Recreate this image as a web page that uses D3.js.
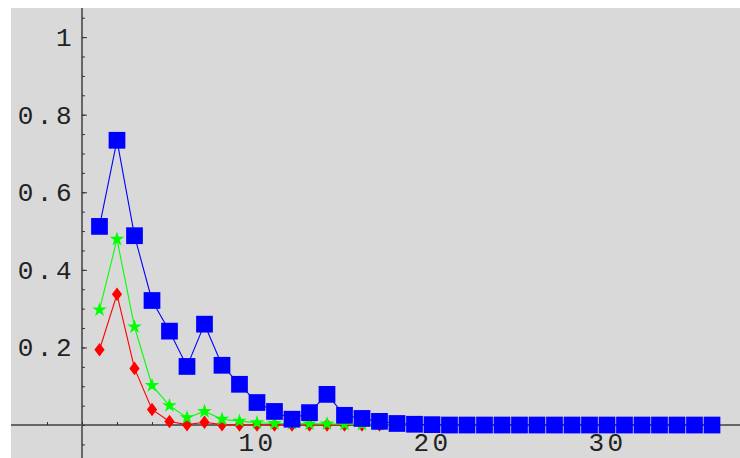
<!DOCTYPE html>
<html>
<head>
  <title>Three series plot</title>
  <script src="https://d3js.org/d3.v7.min.js"></script>
  <style>
    body { margin: 0; background: #ffffff; }
    svg { display: block; }
  </style>
</head>
<body>
  <svg id="chart" width="740" height="458"></svg>

  <script>
    // values (x = 1 .. 36)
    const blueValues = [0.512, 0.734, 0.488, 0.321, 0.242, 0.151, 0.260, 0.154, 0.105, 0.058,
      0.035, 0.015, 0.032, 0.079, 0.025, 0.017, 0.0095, 0.004, 0.002, 0.001,
      0, 0, 0, 0, 0, 0, 0, 0, 0, 0, 0, 0, 0, 0, 0, 0];
    const greenValues = [0.297, 0.479, 0.253, 0.102, 0.050, 0.019, 0.035, 0.015, 0.010, 0.006,
      0.004, 0.004, 0.003, 0.003, 0.002, 0.001, 0.001, 0.0005, 0, 0,
      0, 0, 0, 0, 0, 0, 0, 0, 0, 0, 0, 0, 0, 0, 0, 0];
    const redValues = [0.194, 0.337, 0.146, 0.040, 0.009, 0.001, 0.007, 0.001, 0, 0,
      0, 0, 0, 0, 0, 0, 0, 0, 0, 0,
      0, 0, 0, 0, 0, 0, 0, 0, 0, 0, 0, 0, 0, 0, 0, 0];

    const xTickLabels = [10, 20, 30];
    const yTickLabels = [0.2, 0.4, 0.6, 0.8, 1];

    const plotLeft = 11, plotTop = 8, plotRight = 740, plotBottom = 458;

    const x = d3.scaleLinear().domain([-4.057, 37.6]).range([plotLeft, plotRight]);
    const y = d3.scaleLinear().domain([-0.085, 1.075]).range([plotBottom, plotTop]);

    const svg = d3.select("#chart");

    // gray plot background
    svg.append("rect")
      .attr("x", plotLeft).attr("y", plotTop)
      .attr("width", plotRight - plotLeft).attr("height", plotBottom - plotTop)
      .attr("fill", "#d9d9d9");

    const axisColor = "#666666";
    const labelFont = "'Liberation Mono', 'DejaVu Sans Mono', monospace";

    // axis lines
    svg.append("line")
      .attr("x1", plotLeft).attr("x2", plotRight)
      .attr("y1", y(0)).attr("y2", y(0))
      .attr("stroke", axisColor).attr("stroke-width", 2);
    svg.append("line")
      .attr("x1", x(0)).attr("x2", x(0))
      .attr("y1", plotTop).attr("y2", plotBottom)
      .attr("stroke", axisColor).attr("stroke-width", 2);

    // y axis: minor then major ticks (pointing right), labels on left
    const yMinor = d3.range(-1, 22).map(i => i * 0.05);
    svg.append("g")
      .attr("transform", `translate(${x(0)},0)`)
      .call(d3.axisLeft(y).tickValues(yMinor).tickSize(-3).tickFormat(""))
      .call(g => g.select(".domain").remove())
      .call(g => g.selectAll("line").attr("stroke", "#333"));

    svg.append("g")
      .attr("transform", `translate(${x(0)},0)`)
      .call(d3.axisLeft(y).tickValues(yTickLabels).tickSize(-5).tickPadding(7).tickFormat(d => String(d)))
      .call(g => g.select(".domain").remove())
      .call(g => g.selectAll("line").attr("stroke", "#333"))
      .call(g => g.selectAll("text")
        .attr("font-family", labelFont)
        .attr("font-size", 26)
        .attr("letter-spacing", "3.5px")
        .attr("fill", "#222"));

    // x axis: minor ticks every 2, major every 10 (pointing up), labels below
    const xMinor = d3.range(-2, 38, 2);
    svg.append("g")
      .attr("transform", `translate(0,${y(0)})`)
      .call(d3.axisBottom(x).tickValues(xMinor).tickSize(-3).tickFormat(""))
      .call(g => g.select(".domain").remove())
      .call(g => g.selectAll("line").attr("stroke", "#333"));

    svg.append("g")
      .attr("transform", `translate(0,${y(0)})`)
      .call(d3.axisBottom(x).tickValues(xTickLabels).tickSize(-5).tickPadding(8).tickFormat(d => String(d)))
      .call(g => g.select(".domain").remove())
      .call(g => g.selectAll("line").attr("stroke", "#333"))
      .call(g => g.selectAll("text")
        .attr("font-family", labelFont)
        .attr("font-size", 26)
        .attr("letter-spacing", "3.5px")
        .attr("dx", "0px")
        .attr("fill", "#222"));

    // series
    const diamond = "M0,-6.8L5.1,0L0,6.8L-5.1,0Z";
    const series = [
      { values: redValues, color: "#ff0000", shape: () => diamond },
      { values: greenValues, color: "#00ff00", shape: d3.symbol(d3.symbolStar, 66) },
      { values: blueValues, color: "#0000ff", shape: d3.symbol(d3.symbolSquare, 280) }
    ];

    const line = d3.line().x((d, i) => x(i + 1)).y(d => y(d));

    series.forEach(s => {
      svg.append("path")
        .datum(s.values)
        .attr("d", line)
        .attr("fill", "none")
        .attr("stroke", s.color)
        .attr("stroke-width", 1.1);

      svg.append("g")
        .selectAll("path")
        .data(s.values)
        .join("path")
        .attr("transform", (d, i) => `translate(${x(i + 1)},${y(d)})`)
        .attr("d", s.shape)
        .attr("fill", s.color);
    });
  </script>
</body>
</html>
